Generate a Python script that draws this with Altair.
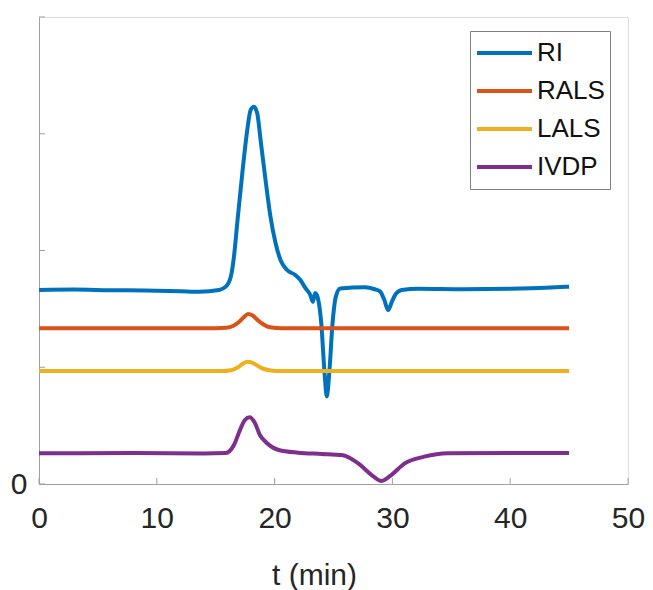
import altair as alt
import pandas as pd

SERIES = ["RI", "RALS", "LALS", "IVDP"]
COLORS = ["#0072BD", "#D95319", "#EDB120", "#7E2F8E"]

# RI (refractive index) trace
ri_t = [0, 3, 6, 9, 12, 13.6, 15.29, 15.85, 16.28, 16.55, 16.83, 17.26, 17.68, 17.96,
        18.24, 18.52, 18.81, 19.23, 19.65, 20.08, 20.50, 21.06, 21.76, 22.19, 22.61,
        23.03, 23.25, 23.45, 23.67, 23.96, 24.24, 24.43, 24.64, 24.92, 25.19, 25.57,
        27.68, 28.5, 28.95, 29.3, 29.64, 29.95, 30.3, 30.8, 32.2, 36, 40, 43, 45]
ri_v = [1.662, 1.665, 1.660, 1.658, 1.652, 1.647, 1.662, 1.690, 1.776, 1.947, 2.236,
        2.664, 3.032, 3.203, 3.232, 3.178, 2.947, 2.604, 2.289, 2.064, 1.919, 1.833,
        1.790, 1.747, 1.679, 1.619, 1.560, 1.636, 1.593, 1.379, 0.951, 0.750, 0.951,
        1.379, 1.602, 1.675, 1.685, 1.668, 1.650, 1.580, 1.490, 1.560, 1.630, 1.662,
        1.672, 1.668, 1.672, 1.680, 1.690]

# RALS trace
rals_t = [0, 10, 15.0, 15.9, 16.5, 17.0, 17.4, 17.75, 18.1, 18.5, 19.0, 19.5, 20.2, 21, 30, 45]
rals_v = [1.334, 1.334, 1.334, 1.338, 1.355, 1.390, 1.430, 1.456, 1.445, 1.410, 1.370,
          1.345, 1.336, 1.333, 1.333, 1.333]

# LALS trace
lals_t = [0, 10, 15.5, 16.3, 16.9, 17.3, 17.7, 18.1, 18.6, 19.1, 19.7, 20.5, 30, 45]
lals_v = [0.968, 0.968, 0.968, 0.975, 1.000, 1.030, 1.048, 1.040, 1.010, 0.985, 0.972,
          0.967, 0.967, 0.967]

# IVDP trace
ivdp_t = [0, 8, 14, 15.85, 16.55, 17.06, 17.48, 17.88, 18.33, 18.75, 19.23, 20.35, 22,
          24, 25.7, 27.1, 28.24, 29.08, 29.9, 31.05, 32.7, 34.7, 40, 45]
ivdp_v = [0.263, 0.265, 0.262, 0.265, 0.334, 0.462, 0.548, 0.571, 0.522, 0.420, 0.362,
          0.291, 0.268, 0.258, 0.248, 0.177, 0.077, 0.026, 0.077, 0.177, 0.234, 0.263,
          0.266, 0.265]

X_TICKS = [0, 10, 20, 30, 40, 50]
Y_TICKS = [0, 1, 2, 3, 4]

rows = []
for name, ts, vs in [("RI", ri_t, ri_v), ("RALS", rals_t, rals_v),
                     ("LALS", lals_t, lals_v), ("IVDP", ivdp_t, ivdp_v)]:
    for t, v in zip(ts, vs):
        rows.append({"series": name, "t": t, "v": v})
df = pd.DataFrame(rows)

W, H = 589, 467
AX = "#a0a0a0"
TXT = "#262626"
FONT = "Liberation Sans"

xs = alt.Scale(domain=[0, 50], nice=False, zero=False)
ys = alt.Scale(domain=[0, 4], nice=False, zero=False)

x_axis = alt.Axis(
    values=X_TICKS, title="t (min)", ticks=False, grid=False, labelFlush=False,
    domainColor=AX, labelFontSize=30, labelColor=TXT, labelPadding=19,
    titleFontSize=30, titleFontWeight="normal", titleColor=TXT,
    titleX=275, titleY=100, titleBaseline="alphabetic", titleAlign="center")
y_axis = alt.Axis(
    values=Y_TICKS, title=None, ticks=False, grid=False, labelFlush=False,
    domainColor=AX, labelFontSize=30, labelColor=TXT, labelPadding=12,
    labelExpr="datum.value == 0 ? '0' : ''")

lines = alt.Chart(df).mark_line(strokeWidth=4, interpolate="monotone").encode(
    x=alt.X("t:Q", scale=xs, axis=x_axis),
    y=alt.Y("v:Q", scale=ys, axis=y_axis),
    color=alt.Color("series:N", sort=SERIES,
                    scale=alt.Scale(domain=SERIES, range=COLORS),
                    legend=alt.Legend(
                        title=None, orient="none", legendX=431, legendY=14,
                        symbolType="stroke", symbolSize=3025, symbolStrokeWidth=4,
                        clipHeight=34, rowPadding=4, labelFontSize=26, labelOffset=3,
                        labelExpr="datum.label + '\u00a0'",
                        labelColor="#111111", padding=5, strokeColor="#7f7f7f",
                        fillColor="white")),
)

xt = alt.Chart(pd.DataFrame({"t": X_TICKS})).mark_rule(color=AX, strokeWidth=1).encode(
    x=alt.X("t:Q", scale=xs, axis=x_axis), y=alt.value(H), y2=alt.value(H - 6))
yt = alt.Chart(pd.DataFrame({"v": Y_TICKS})).mark_rule(color=AX, strokeWidth=1).encode(
    y=alt.Y("v:Q", scale=ys, axis=y_axis), x=alt.value(0), x2=alt.value(6))

chart = alt.layer(lines, xt, yt).properties(
    width=W, height=H,
    autosize=alt.AutoSizeParams(type="none"),
    padding={"left": 31, "top": 9, "right": 17, "bottom": 110},
).configure_view(stroke=None).configure(font=FONT)

chart.save("out.html", embed_options={"renderer": "svg", "actions": False})
